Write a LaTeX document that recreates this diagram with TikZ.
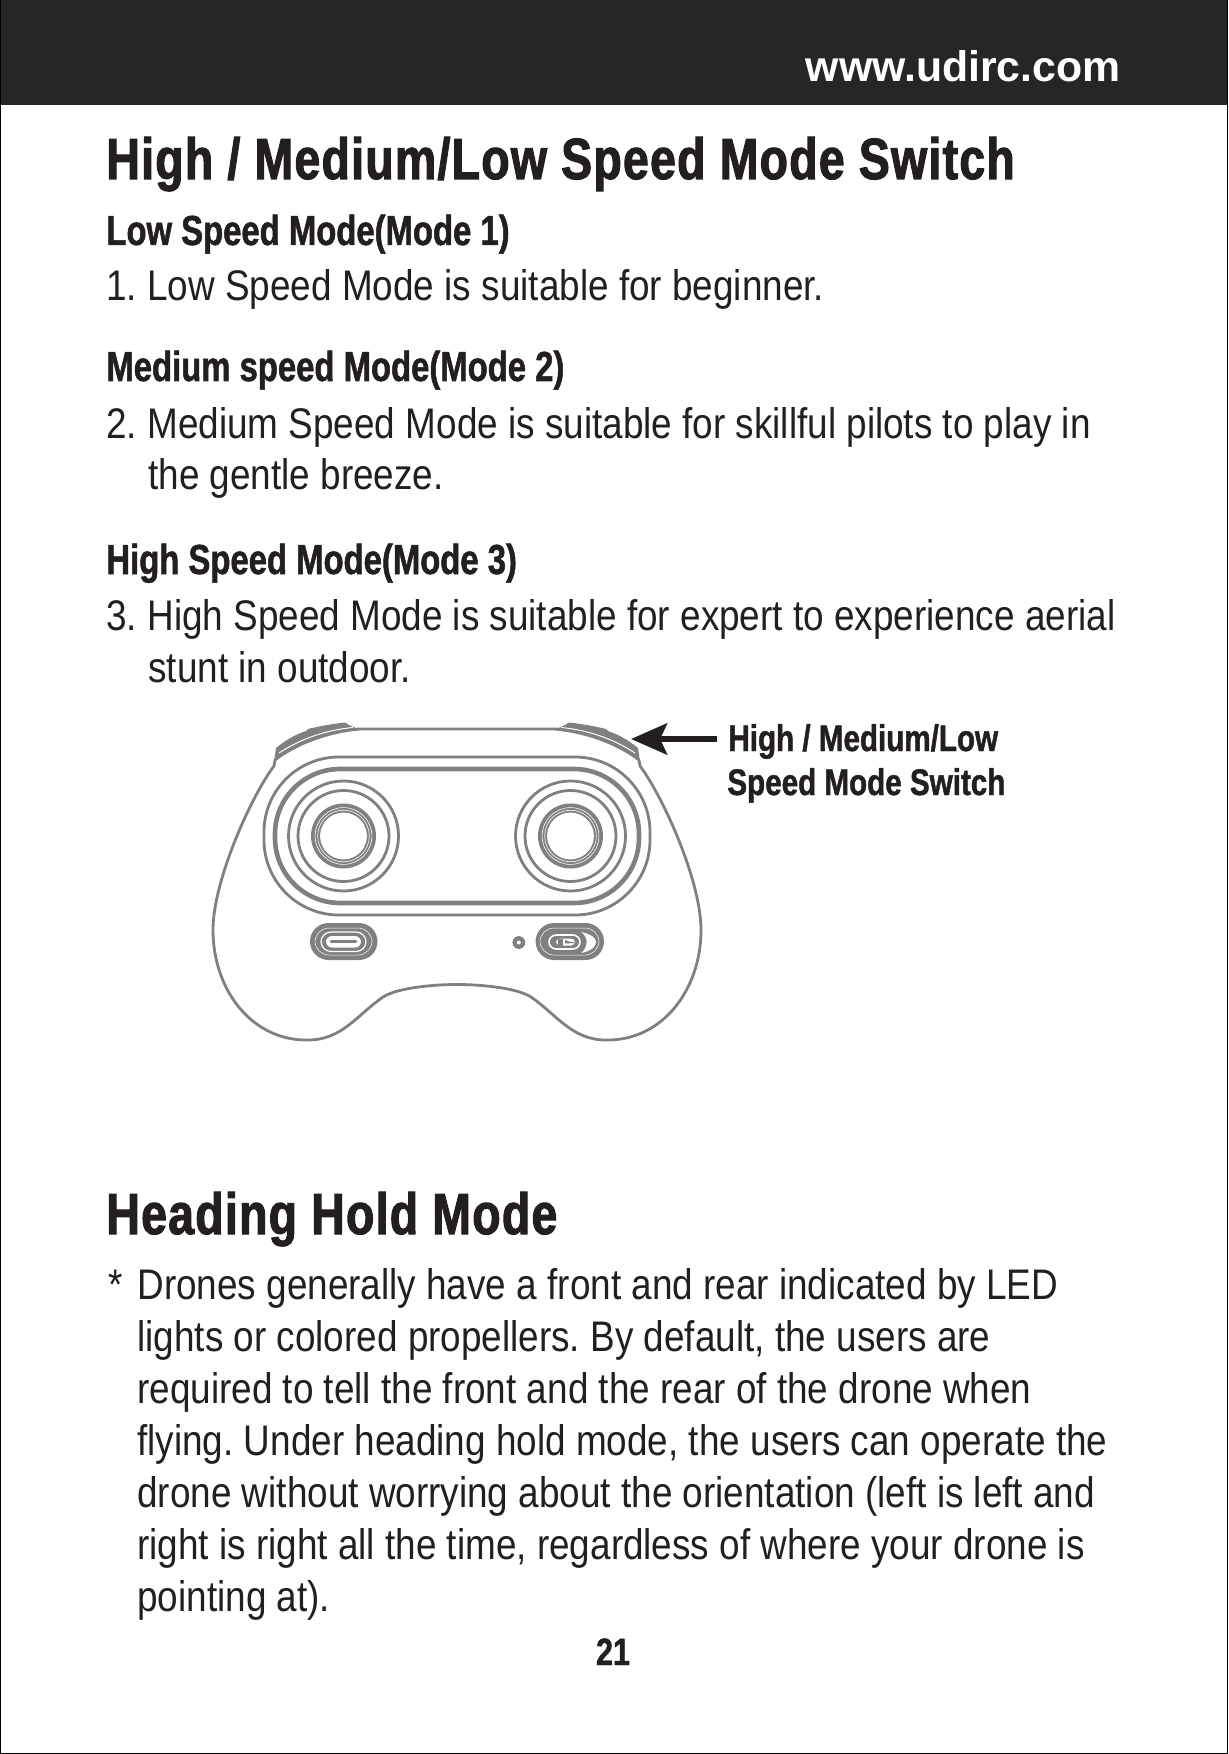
\documentclass[tikz,border=0pt]{standalone}
\usepackage{fontspec}
\setmainfont[FakeStretch=0.862]{Liberation Sans}
\newfontfamily\headfont[FakeStretch=0.80,FakeBold=1.2]{Liberation Sans Bold}
\newfontfamily\subfont[FakeStretch=0.782,FakeBold=1.2]{Liberation Sans Bold}
\newfontfamily\titlefont[FakeStretch=0.80,FakeBold=1.8,LetterSpace=2.2]{Liberation Sans Bold}
\newfontfamily\urlfont{Liberation Sans Bold}
\usetikzlibrary{arrows.meta}

\definecolor{bardark}{HTML}{262626}
\definecolor{inkdark}{HTML}{231F20}
\definecolor{linegrey}{HTML}{808080}

\tikzset{
  txt/.style={anchor=base west,inner sep=0pt,text=inkdark,font=\frenchspacing\fontsize{21.4}{21.4}\selectfont},
  title/.style={anchor=base west,inner sep=0pt,text=inkdark,font=\titlefont\fontsize{29}{29}\selectfont},
  subtitle/.style={anchor=base west,inner sep=0pt,text=inkdark,font=\subfont\fontsize{21}{21}\selectfont},
  swlabel/.style={anchor=base west,inner sep=0pt,text=inkdark,font=\headfont\fontsize{18.5}{18.5}\selectfont},
  ctl/.style={draw=linegrey,line width=1.4pt},
  ctlthick/.style={draw=linegrey,line width=2.3pt},
  pointer/.style={draw=inkdark,line width=3.3pt,-{Stealth[length=18pt,width=15.5pt,inset=3.5pt]}},
}

\begin{document}
\begin{tikzpicture}[x=0.5pt,y=-0.5pt]
  \useasboundingbox (0,0) rectangle (1228,1754);
  \fill[white] (0,0) rectangle (1228,1754);
  \fill[bardark] (0,0) rectangle (1228,105);
  \draw[black,line width=0.6pt] (0.6,0) -- (0.6,1753.4) -- (1227.4,1753.4) -- (1227.4,0);

  \node[anchor=base east,inner sep=0pt,text=white,font=\urlfont\fontsize{21.4}{21.4}\selectfont] (url) at (1121,82) {www.udirc.com};

  \node[title] (ttlswitch) at (106,179) {High / Medium/Low Speed Mode Switch};
  \node[subtitle] (sublow) at (106,245) {Low Speed Mode(Mode 1)};
  \node[txt] (txlow) at (106,301) {1. Low Speed Mode is suitable for beginner.};
  \node[subtitle] (submed) at (106,381) {Medium speed Mode(Mode 2)};
  \node[txt] (txmeda) at (106,438) {2. Medium Speed Mode is suitable for skillful pilots to play in};
  \node[txt] (txmedb) at (148,489.5) {the gentle breeze.};
  \node[subtitle] (subhigh) at (106,574) {High Speed Mode(Mode 3)};
  \node[txt] (txhigha) at (106,630) {3. High Speed Mode is suitable for expert to experience aerial};
  \node[txt] (txhighb) at (148,682) {stunt in outdoor.};

  \node[title] (ttlhold) at (106,1234) {Heading Hold Mode};
  \node[txt] (txstar) at (108,1299) {*};
  \foreach \nm/\yy/\tx in {ha/1299/Drones generally have a front and rear indicated by LED,
      hb/1351/{lights or colored propellers. By default, the users are},
      hc/1403/required to tell the front and the rear of the drone when,
      hd/1455/{flying. Under heading hold mode, the users can operate the},
      he/1507/drone without worrying about the orientation (left is left and,
      hf/1559/{right is right all the time, regardless of where your drone is},
      hg/1611/pointing at).}
    \node[txt] (\nm) at (137,\yy) {\tx};
  \node[anchor=base,inner sep=0pt,text=inkdark,font=\headfont\fontsize{19}{19}\selectfont] (pagenum) at (613,1665) {21};

  % controller
  \begin{scope}[xshift=228.5pt]
    % shoulder switches
    \foreach \sx in {-1,1} {
      \begin{scope}[xscale=\sx]
        \fill[linegrey] (-181,748) .. controls (-170,739) and (-160,734) .. (-151,731) -- (-149,729)
          .. controls (-137,726) and (-125,724) .. (-112,722.5) -- (-108,725) -- (-99,729)
          -- (-99,730.5) .. controls (-130,733) and (-160,745) .. (-183,762) -- cycle;
        \draw[white,line width=0.5pt] (-178,753) .. controls (-155,738) and (-130,730) .. (-104,727.5);
      \end{scope}
    }
    % body
    \draw[ctl,line join=round] (-99,729) -- (99,729)
      .. controls (130,732) and (165,745) .. (182,760) -- (183,766)
      .. controls (205,795) and (244,880) .. (244,930)
      .. controls (244,990) and (205,1041) .. (149,1040)
      .. controls (115,1040) and (100,1015) .. (74,997)
      .. controls (60,988) and (25,984.5) .. (0,984.5)
      .. controls (-25,984.5) and (-60,988) .. (-74,997)
      .. controls (-100,1015) and (-115,1040) .. (-149,1040)
      .. controls (-205,1041) and (-244,990) .. (-244,930)
      .. controls (-244,880) and (-205,795) .. (-183,766)
      -- (-182,760) .. controls (-165,745) and (-130,732) .. (-99,729) -- cycle;
    % panel
    \draw[ctl,rounded corners=37.5pt] (-193,757) rectangle (193,915);
    \draw[ctlthick,rounded corners=32.5pt] (-182,769) rectangle (182,903);
    % sticks
    \foreach \sx in {-113.5,113.5} {
      \draw[ctl] (\sx,836) circle (27.5pt);
      \draw[ctl] (\sx,836) circle (22.75pt);
      \fill[linegrey] (\sx,836) circle (16.25pt);
      \draw[white,line width=0.3pt] (\sx,836) circle (14.2pt);
      \draw[white,line width=0.3pt] (\sx,836) circle (12.9pt);
      \fill[white] (\sx,836) circle (11.7pt);
    }
    % charge port
    \fill[linegrey,rounded corners=9.25pt] (-147,923) rectangle (-79.5,960);
    \draw[white,line width=0.25pt,rounded corners=7pt] (-142,928) rectangle (-85,955);
    \draw[white,line width=0.6pt,rounded corners=5pt] (-136,932) rectangle (-91,951.5);
    \fill[white,rounded corners=3pt] (-131,936) rectangle (-96,947.5);
    \draw[linegrey,line width=1.3pt,line cap=round] (-126,941.7) -- (-101,941.7);
    % power switch
    \fill[linegrey] (61.8,942.5) circle (3.2pt);
    \fill[white] (61.8,942.5) circle (1pt);
    \fill[linegrey,rounded corners=9.25pt] (78.6,923) rectangle (147,960);
    \draw[white,line width=0.25pt,rounded corners=7pt] (83,928) rectangle (142,955);
    \fill[white] (124,932) .. controls (134,934) and (139,938) .. (139,942)
      .. controls (139,947) and (134,951) .. (124,953)
      .. controls (131,948) and (132,937) .. (124,932) -- cycle;
    \draw[white,line width=0.8pt,rounded corners=3.6pt] (92,935) rectangle (123,949);
    \fill[white,rounded corners=2pt] (99,938.5) rectangle (118,945.5);
    \fill[linegrey] (101,938.5) rectangle (105.5,945.5);
    \fill[linegrey] (108,939.8) -- (113,941.8) -- (117,941.8) -- (117,943) -- (108,943.5) -- cycle;
  \end{scope}

  % callout
  \node[swlabel] (swlabela) at (728,751) {High / Medium/Low};
  \node[swlabel] (swlabelb) at (727,795) {Speed Mode Switch};
  \coordinate (swtip) at (631,739);
  \draw[pointer,shorten <=5.5pt] (swlabela.west |- swtip) -- (swtip);
\end{tikzpicture}
\end{document}
